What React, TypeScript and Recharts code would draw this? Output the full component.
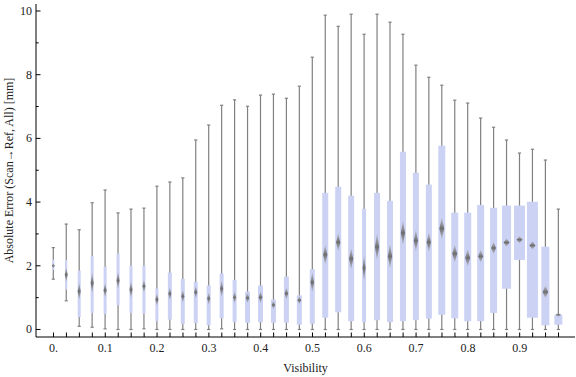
import { ComposedChart, Bar, XAxis, YAxis, Label } from 'recharts'

// ── Data ──────────────────────────────────────────────────────────────────────
const visibility = [
  0, 0.025, 0.05, 0.075, 0.1, 0.125, 0.15, 0.175, 0.2, 0.225,
  0.25, 0.275, 0.3, 0.325, 0.35, 0.375, 0.4, 0.425, 0.45, 0.475,
  0.5, 0.525, 0.55, 0.575, 0.6, 0.625, 0.65, 0.675, 0.7, 0.725,
  0.75, 0.775, 0.8, 0.825, 0.85, 0.875, 0.9, 0.925, 0.95, 0.975,
]
const whiskerLow = [
  1.58, 0.9, 0.1, 0.07, 0.02, 0, 0, 0.02, 0, 0,
  0, 0, 0, 0.02, 0, 0, 0, 0, 0, 0,
  0, 0, 0, 0, 0, 0, 0, 0, 0, 0,
  0, 0, 0, 0, 0, 0, 0, 0, 0, 0,
]
const quartile1 = [
  1.87, 1.25, 0.39, 0.52, 0.49, 0.76, 0.52, 0.5, 0.26, 0.31,
  0.17, 0.2, 0.13, 0.35, 0.23, 0.21, 0.23, 0.21, 0.21, 0.15,
  0.18, 0.37, 0.54, 0.26, 0.23, 0.29, 0.23, 0.26, 0.29, 0.34,
  0.46, 0.35, 0.26, 0.26, 0.52, 1.28, 2.18, 0.37, 0.13, 0.15,
]
const medians = [
  2.0, 1.72, 1.2, 1.46, 1.23, 1.54, 1.25, 1.36, 0.94, 1.12,
  1.04, 1.17, 0.97, 1.28, 1.01, 0.99, 1.01, 0.77, 1.13, 0.92,
  1.48, 2.35, 2.74, 2.22, 1.93, 2.59, 2.3, 3.03, 2.79, 2.74,
  3.17, 2.38, 2.25, 2.3, 2.56, 2.73, 2.82, 2.64, 1.18, 0.46,
]
const quartile3 = [
  2.19, 2.18, 1.85, 2.3, 1.97, 2.38, 2.0, 2.0, 1.29, 1.79,
  1.59, 1.5, 1.38, 1.76, 1.56, 1.19, 1.38, 0.94, 1.66, 1.07,
  1.89, 4.29, 4.48, 4.2, 3.79, 4.29, 4.04, 5.58, 4.92, 4.55,
  5.77, 3.67, 3.67, 3.91, 3.82, 3.89, 3.89, 4.01, 2.6, 0.46,
]
const whiskerHigh = [
  2.57, 3.31, 3.13, 3.98, 4.38, 3.66, 3.78, 3.81, 4.5, 4.63,
  4.76, 5.95, 6.42, 7.04, 7.21, 7.01, 7.36, 7.39, 7.26, 7.64,
  8.55, 9.87, 9.52, 9.9, 9.27, 9.9, 9.65, 9.27, 8.3, 7.92,
  7.67, 7.2, 7.11, 6.64, 6.35, 5.95, 5.54, 5.66, 5.32, 3.78,
]
// half-height of the median confidence marker
const medianSpread = [
  0.08, 0.23, 0.28, 0.34, 0.23, 0.28, 0.27, 0.2, 0.2, 0.2,
  0.2, 0.2, 0.19, 0.27, 0.19, 0.16, 0.19, 0.13, 0.19, 0.13,
  0.31, 0.31, 0.28, 0.34, 0.42, 0.42, 0.39, 0.39, 0.34, 0.31,
  0.34, 0.28, 0.27, 0.2, 0.19, 0.13, 0.11, 0.13, 0.19, 0.06,
]
// samples per bin (drives box width)
const counts = [
  100, 100, 150, 150, 150, 150, 150, 150, 150, 200,
  200, 200, 200, 200, 200, 250, 250, 250, 250, 250,
  250, 300, 300, 300, 200, 300, 300, 300, 300, 300,
  350, 350, 350, 350, 350, 450, 550, 550, 400, 400,
]
const yTicks = [0, 1, 2, 3, 4, 5, 6, 7, 8, 9, 10]

const rows = visibility.map((v, i) => ({
  v,
  whisker: [whiskerLow[i], whiskerHigh[i]],
  box: [quartile1[i], quartile3[i]],
  mid: [medians[i] - medianSpread[i], medians[i] + medianSpread[i]],
  n: counts[i],
}))

const FONT = '"Liberation Serif", "DejaVu Serif", serif'
const TEXT = '#222'
const padX = { left: 11, right: 10 }

const span = (y: number, h: number) => [Math.min(y, y + h), Math.max(y, y + h)]

// ── Shapes ────────────────────────────────────────────────────────────────────
function WhiskerShape(props: any) {
  const { x, y, width, height } = props
  const cx = x + width / 2
  const [top, bot] = span(y, height)
  return (
    <g stroke="#808080" strokeWidth={1.2}>
      <line x1={cx} x2={cx} y1={top} y2={bot} />
      <line x1={cx - 1.6} x2={cx + 1.6} y1={top} y2={top} />
      <line x1={cx - 1.6} x2={cx + 1.6} y1={bot} y2={bot} />
    </g>
  )
}

function BoxShape(props: any) {
  const { x, y, width, height, payload } = props
  const cx = x + width / 2
  const w = payload.n / 50
  const [top, bot] = span(y, height)
  return <rect x={cx - w / 2} y={top} width={w} height={Math.max(bot - top, 0.5)} fill="#ccd2f4" />
}

function MedianShape(props: any) {
  const { x, y, width, height, payload } = props
  const cx = x + width / 2
  const w = payload.n / 50
  const hw = Math.max(1.5, Math.min(w * 0.35, 3))
  const [top, bot] = span(y, height)
  const cy = (top + bot) / 2
  const hh = Math.max((bot - top) / 2, 1.5)
  return (
    <polygon
      points={`${cx},${cy - hh} ${cx + hw},${cy} ${cx},${cy + hh} ${cx - hw},${cy}`}
      fill="url(#medGrad)"
    />
  )
}

// ── Ticks ─────────────────────────────────────────────────────────────────────
function BottomTick({ x, y, payload, index }: any) {
  const i = payload?.index ?? index
  const v = payload?.value as number
  const label = i % 4 === 0 ? (v === 0 ? '0.' : v.toFixed(1)) : null
  return (
    <g>
      <line x1={x} x2={x} y1={y} y2={y - 4.5} stroke="#000" />
      {label && (
        <text x={x} y={y + 14.7} textAnchor="middle" fontFamily={FONT} fontSize={12} fill={TEXT}>
          {label}
        </text>
      )}
    </g>
  )
}

function TopTick({ x, y }: any) {
  return <line x1={x} x2={x} y1={y} y2={y + 4.5} stroke="#000" />
}

function LeftTick({ x, y, payload }: any) {
  const v = payload.value
  const major = v % 2 === 0
  return (
    <g>
      <line x1={x} x2={x + (major ? 4.5 : 2.7)} y1={y} y2={y} stroke="#000" />
      {major && (
        <text x={x - 4} y={y + 4} textAnchor="end" fontFamily={FONT} fontSize={12} fill={TEXT}>
          {v}
        </text>
      )}
    </g>
  )
}

function RightTick({ x, y, payload }: any) {
  const major = payload.value % 2 === 0
  return <line x1={x} x2={x - (major ? 4.5 : 2.7)} y1={y} y2={y} stroke="#000" />
}

export default function App() {
  return (
    <div style={{ position: 'absolute', left: 0, top: 0, background: '#fff' }}>
      <ComposedChart
        width={576}
        height={377}
        data={rows}
        margin={{ top: 4, right: 1, bottom: 0, left: 0 }}
        barCategoryGap="10%"
      >
        <defs>
          <linearGradient id="medGrad" x1="0" y1="0" x2="0" y2="1">
            <stop offset="0%" stopColor="#9a9a9a" stopOpacity={0.4} />
            <stop offset="50%" stopColor="#6c6c6c" stopOpacity={1} />
            <stop offset="100%" stopColor="#9a9a9a" stopOpacity={0.4} />
          </linearGradient>
        </defs>
        <XAxis
          xAxisId="bottom"
          dataKey="v"
          type="category"
          height={40}
          padding={padX}
          interval={0}
          tickSize={0}
          tickMargin={0}
          tickLine={false}
          tick={<BottomTick />}
          axisLine={{ stroke: '#000' }}
        >
          <Label
            content={() => (
              <text x={305.5} y={371.5} textAnchor="middle" fontFamily={FONT} fontSize={12} fill={TEXT}>
                Visibility
              </text>
            )}
          />
        </XAxis>
        <XAxis
          xAxisId="top"
          dataKey="v"
          type="category"
          orientation="top"
          height={0}
          padding={padX}
          interval={0}
          tickSize={0}
          tickMargin={0}
          tickLine={false}
          tick={<TopTick />}
          axisLine={{ stroke: '#000' }}
        />
        <XAxis xAxisId="mid" dataKey="v" type="category" padding={padX} hide />
        <YAxis
          yAxisId="left"
          type="number"
          domain={[-0.236, 10.22]}
          allowDataOverflow
          ticks={yTicks}
          interval={0}
          width={36}
          tickSize={0}
          tickMargin={0}
          tickLine={false}
          tick={<LeftTick />}
          axisLine={{ stroke: '#000' }}
        >
          <Label
            content={() => (
              <text
                x={0}
                y={0}
                transform="translate(12.5,170.5) rotate(-90)"
                textAnchor="middle"
                fontFamily={FONT}
                fontSize={12}
                fill={TEXT}
              >
                Absolute Error (Scan→Ref, All) [mm]
              </text>
            )}
          />
        </YAxis>
        <YAxis
          yAxisId="right"
          orientation="right"
          type="number"
          domain={[-0.236, 10.22]}
          allowDataOverflow
          ticks={yTicks}
          interval={0}
          width={0}
          tickSize={0}
          tickMargin={0}
          tickLine={false}
          tick={<RightTick />}
          axisLine={{ stroke: '#000' }}
        />
        <Bar
          xAxisId="bottom"
          yAxisId="left"
          dataKey="whisker"
          shape={<WhiskerShape />}
          isAnimationActive={false}
        />
        <Bar
          xAxisId="top"
          yAxisId="left"
          dataKey="box"
          shape={<BoxShape />}
          isAnimationActive={false}
        />
        <Bar
          xAxisId="mid"
          yAxisId="right"
          dataKey="mid"
          shape={<MedianShape />}
          isAnimationActive={false}
        />
      </ComposedChart>
    </div>
  )
}
